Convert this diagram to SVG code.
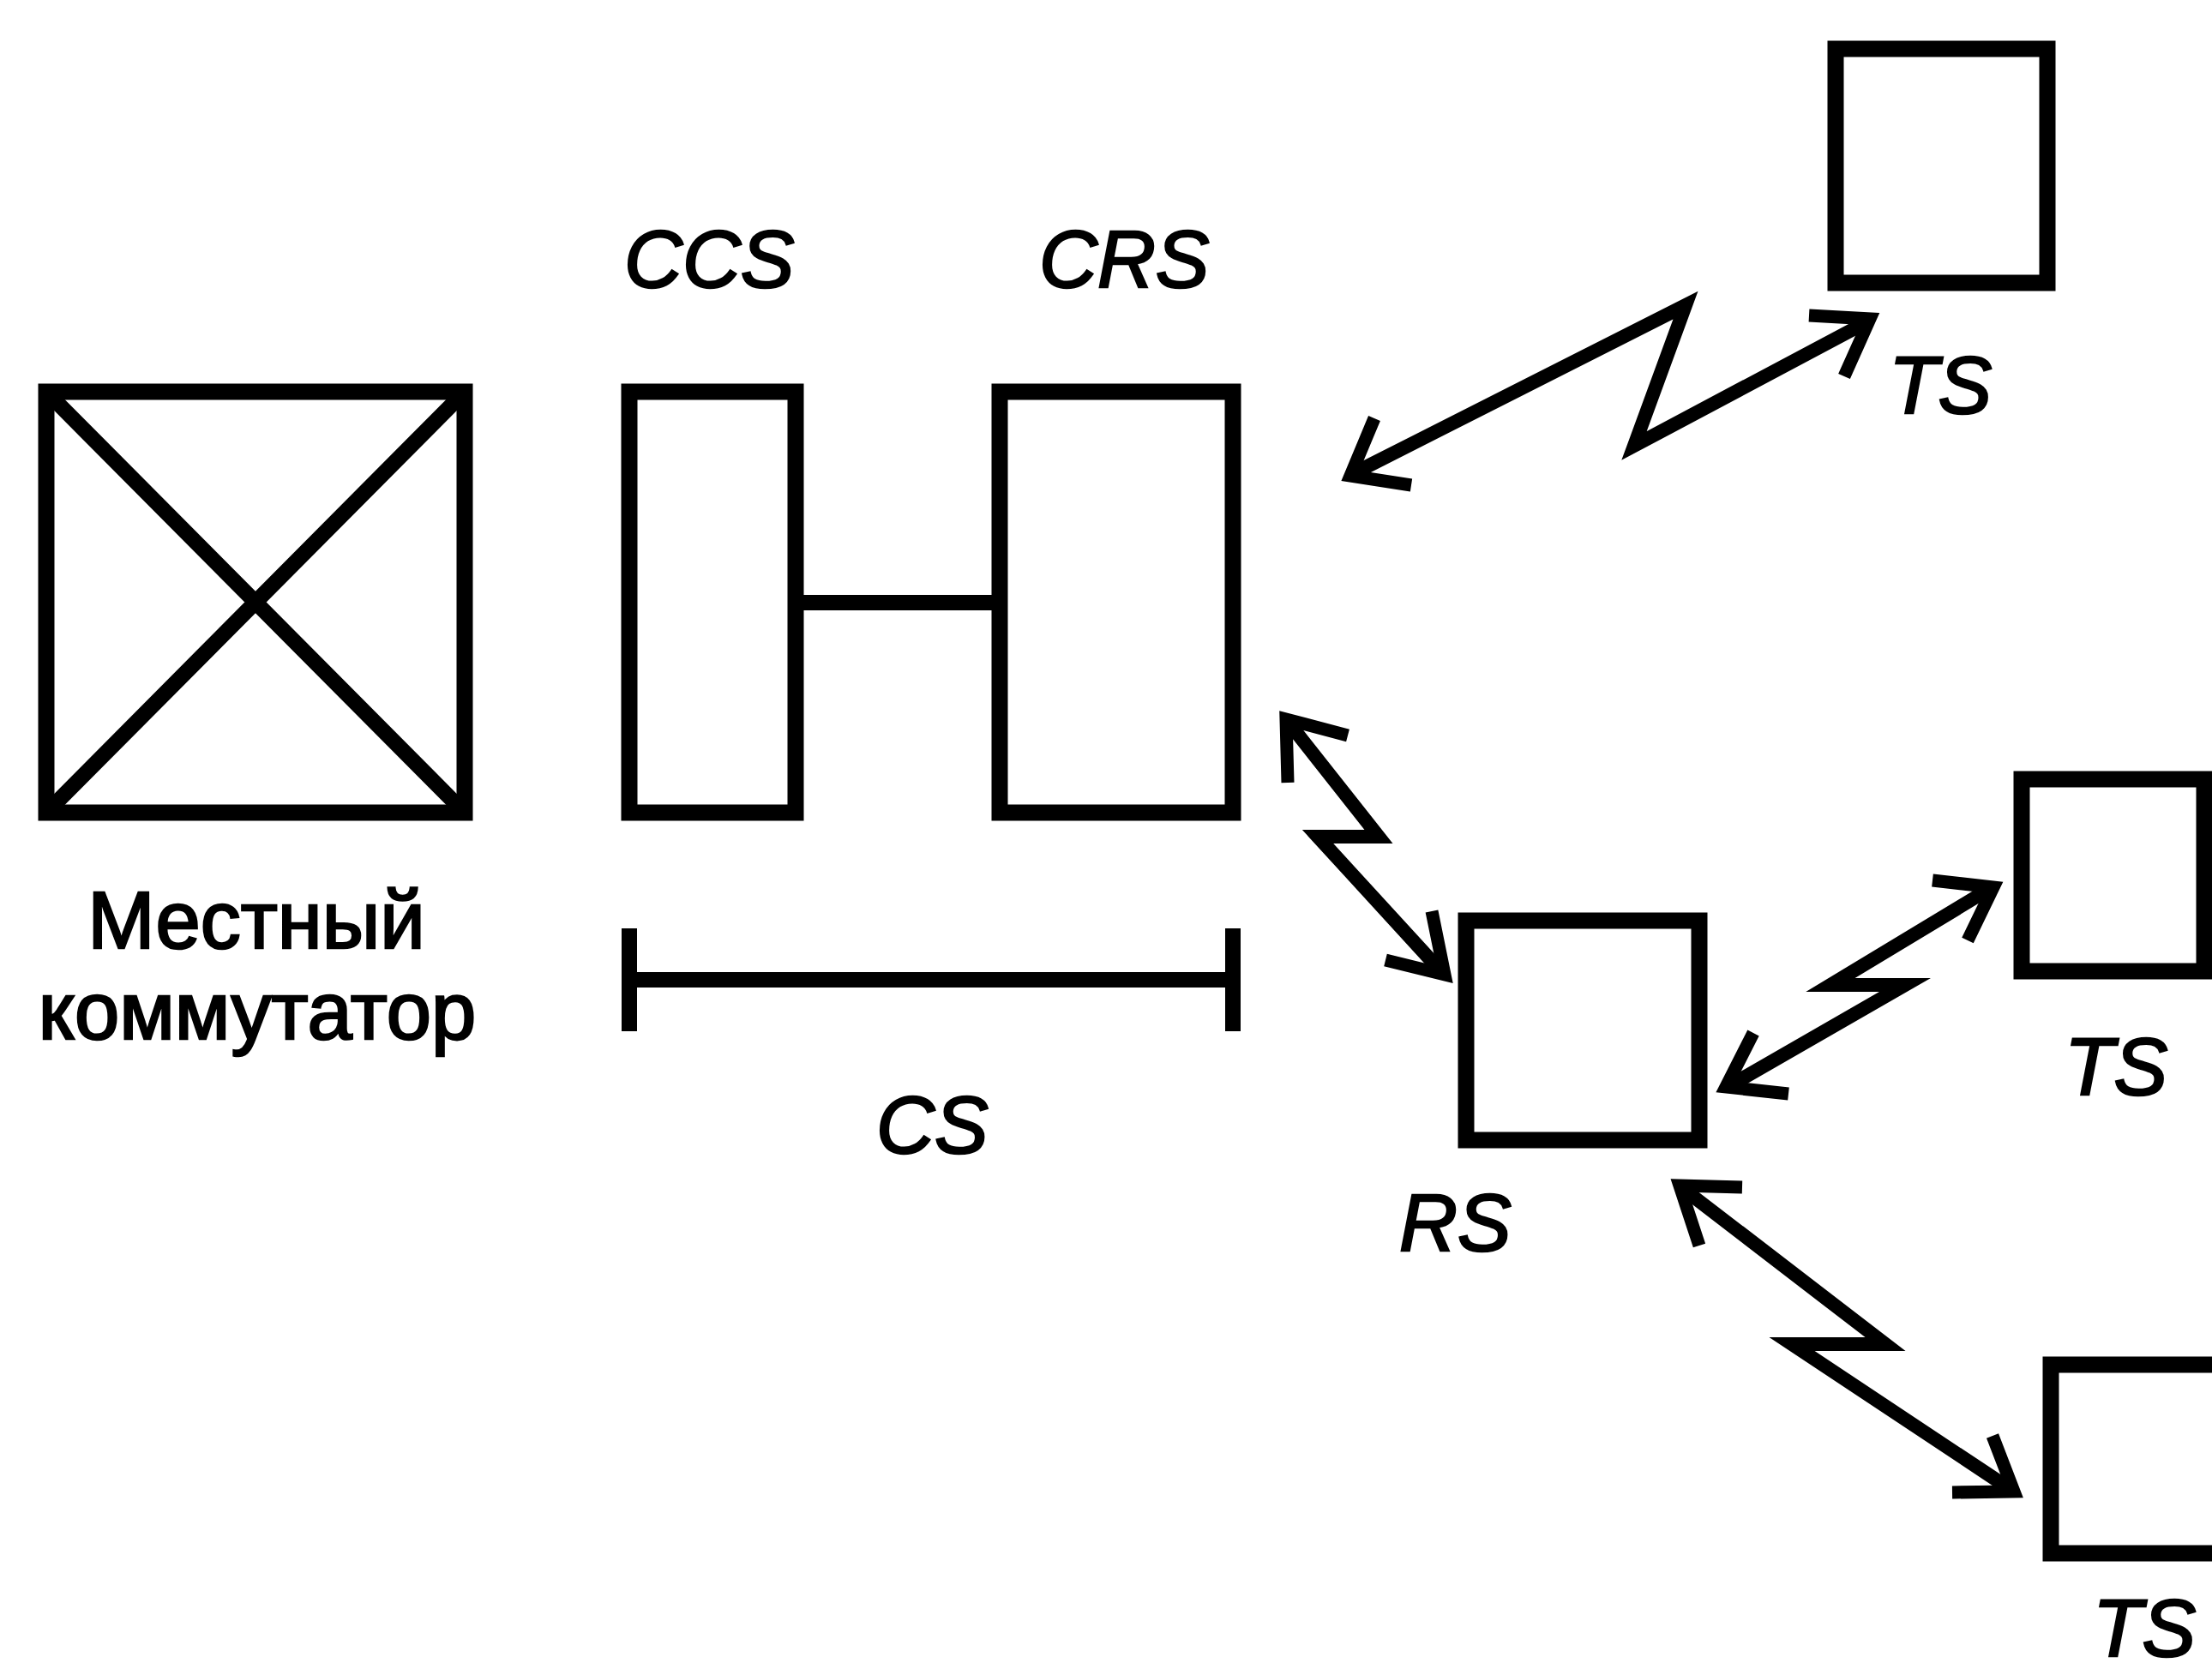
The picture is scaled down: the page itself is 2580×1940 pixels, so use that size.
<svg xmlns="http://www.w3.org/2000/svg" width="2580" height="1940" viewBox="0 0 2580 1940">
<style>
.box{fill:none;stroke:#000;stroke-width:19}
.ln{fill:none;stroke:#000;stroke-width:18}
.diag{fill:none;stroke:#000;stroke-width:18}
.zig{fill:none;stroke:#000;stroke-width:16;stroke-linejoin:miter;stroke-miterlimit:30}
.hd{fill:none;stroke:#000;stroke-width:15;stroke-linejoin:miter;stroke-miterlimit:30}
text{font-family:"Liberation Sans",Arial,sans-serif;font-size:94px;fill:#000;stroke:#000;stroke-width:2.5}
.it{font-style:italic}
</style>
<rect width="2580" height="1940" fill="#fff"/>
<g id="local-switch">
<rect class="box" x="54" y="457" width="488" height="491"/>
<path class="diag" d="M54 457L542 948M542 457L54 948"/>
<text x="299" y="1106" text-anchor="middle">Местный</text>
<text x="300" y="1212" text-anchor="middle">коммутатор</text>
</g>
<g id="ccs"><rect class="box" x="734" y="457" width="194" height="491"/><text class="it" x="728" y="335">CCS</text></g>
<g id="crs"><rect class="box" x="1166" y="457" width="272" height="491"/><text class="it" x="1212" y="335">CRS</text></g>
<g id="cs"><path class="ln" d="M734 1083V1203M1438 1083V1203M734 1143H1438"/><text class="it" x="1022" y="1345">CS</text></g>
<g id="ts1"><rect class="box" x="2141" y="57" width="247" height="273"/><text class="it" x="2203" y="482">TS</text></g>
<g id="rs"><rect class="box" x="1710" y="1074" width="272" height="256"/><text class="it" x="1632" y="1459">RS</text></g>
<g id="ts2"><rect class="box" x="2358" y="909" width="213" height="224"/><text class="it" x="2408" y="1277">TS</text></g>
<g id="ts3"><rect class="box" x="2392" y="1592" width="230" height="220"/><text class="it" x="2441" y="1932">TS</text></g>
<g id="connectors">
<path class="ln" d="M937 703H1157"/>
<polyline class="zig" points="1583,550 1966,356 1906,520 2173,378"/>
<polyline class="hd" points="1603,488 1575,555 1646,566"/>
<polyline class="hd" points="2110,368 2181,372 2151,439"/>
<polyline class="zig" points="1507,848 1608,976 1537,976 1678,1130"/>
<polyline class="hd" points="1572,858 1500,839 1502,913"/>
<polyline class="hd" points="1616,1120 1685,1137 1670,1063"/>
<polyline class="zig" points="2022,1264 2222,1149 2135,1149 2317,1039"/>
<polyline class="hd" points="2045,1205 2013,1268 2086,1276"/>
<polyline class="hd" points="2254,1027 2325,1035 2295,1097"/>
<polyline class="zig" points="1966,1389 2199,1568 2090,1568 2343,1736"/>
<polyline class="hd" points="2032,1385 1959,1383 1982,1453"/>
<polyline class="hd" points="2277,1741 2349,1740 2324,1675"/>
</g>
</svg>
